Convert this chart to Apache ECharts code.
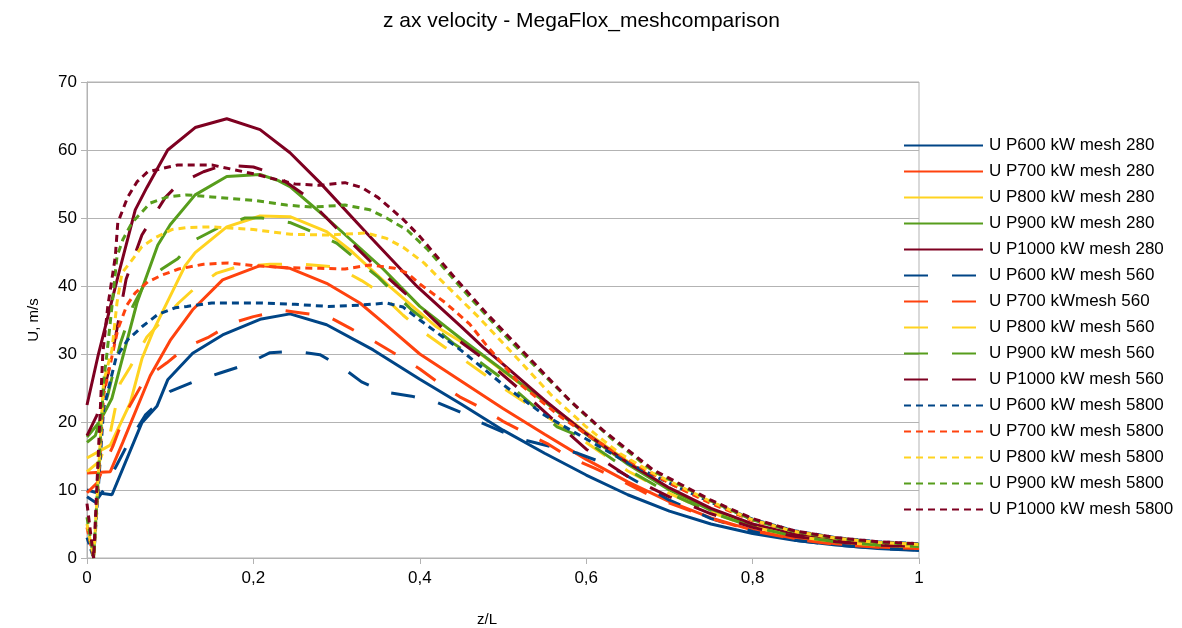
<!DOCTYPE html>
<html>
<head>
<meta charset="utf-8">
<script src="https://cdn.jsdelivr.net/npm/echarts@6/dist/echarts.min.js"></script>
<style>
html,body{margin:0;padding:0;background:#fff;}
#chart{width:1182px;height:628px;}
</style>
</head>
<body>
<div id="chart"></div>
<script>
// ---- Data: [z/L, U m/s] pairs per series ----
const titleText = 'z ax velocity - MegaFlox_meshcomparison';
const xTicks = [0, 0.2, 0.4, 0.6, 0.8, 1];
const yTicks = [0, 10, 20, 30, 40, 50, 60, 70];

const seriesNames = [
  'U P600 kW mesh 280', 'U P700 kW mesh 280', 'U P800 kW mesh 280', 'U P900 kW mesh 280', 'U P1000 kW mesh 280',
  'U P600 kW mesh 560', 'U P700 kWmesh 560', 'U P800 kW mesh 560', 'U P900 kW mesh 560', 'U P1000 kW mesh 560',
  'U P600 kW mesh 5800', 'U P700 kW mesh 5800', 'U P800 kW mesh 5800', 'U P900 kW mesh 5800', 'U P1000 kW mesh 5800'
];

const P600_280 = [[0,10.0],[0.012,9.6],[0.03,9.3],[0.066,19.9],[0.084,22.3],[0.097,26.2],[0.127,30.1],[0.163,32.8],[0.208,35.1],[0.244,35.9],[0.288,34.3],[0.344,30.6],[0.4,26.3],[0.45,22.6],[0.5,18.8],[0.55,15.4],[0.6,12.2],[0.65,9.3],[0.7,6.9],[0.75,5.0],[0.8,3.6],[0.85,2.6],[0.9,1.9],[0.95,1.4],[1,1.1]];
const P700_280 = [[0,12.5],[0.028,12.7],[0.043,17],[0.076,26.8],[0.1,32],[0.127,36.5],[0.163,40.9],[0.208,43],[0.244,42.6],[0.288,40.4],[0.328,37.5],[0.36,34.2],[0.4,30],[0.45,26],[0.5,22],[0.55,18.2],[0.6,14.5],[0.65,11.2],[0.7,8.3],[0.75,5.9],[0.8,4.1],[0.85,2.9],[0.9,2.1],[0.95,1.6],[1,1.4]];
const P800_280 = [[0,14.7],[0.028,16.6],[0.052,22.8],[0.066,29.3],[0.08,33.5],[0.1,38.5],[0.118,43],[0.13,44.9],[0.168,48.7],[0.208,50.3],[0.244,50.2],[0.288,48],[0.316,45.3],[0.364,39.9],[0.42,34],[0.47,30.3],[0.5,27.5],[0.55,23],[0.6,18.5],[0.65,14.2],[0.7,10.2],[0.75,7.1],[0.8,4.8],[0.85,3.3],[0.9,2.4],[0.95,1.9],[1,1.7]];
const P900_280 = [[0,17.8],[0.015,20],[0.03,23.5],[0.045,30.5],[0.06,37.5],[0.085,46],[0.1,49],[0.13,53.4],[0.168,56.1],[0.208,56.4],[0.23,55.5],[0.244,54.6],[0.288,50],[0.356,42.5],[0.4,37],[0.45,32.2],[0.5,27.6],[0.55,23],[0.6,18.2],[0.65,13.8],[0.7,10],[0.75,7],[0.8,4.8],[0.85,3.3],[0.9,2.4],[0.95,1.9],[1,1.7]];
const P1000_280 = [[0,22.5],[0.013,29.6],[0.037,41.3],[0.058,51.2],[0.072,54.5],[0.097,60],[0.13,63.3],[0.168,64.6],[0.208,63],[0.244,59.6],[0.28,55.2],[0.336,47.8],[0.397,39.9],[0.45,34],[0.476,31],[0.5,28.5],[0.55,23.2],[0.6,18.3],[0.65,14],[0.7,10.3],[0.75,7.3],[0.8,5],[0.85,3.5],[0.9,2.6],[0.95,2.1],[1,1.8]];

const P600_560 = [[0,9],[0.01,8.2],[0.02,10],[0.035,13.5],[0.05,17],[0.07,21],[0.1,24.5],[0.13,26],[0.16,27.2],[0.19,28.4],[0.22,30.2],[0.25,30.4],[0.28,29.9],[0.306,28.1],[0.33,25.9],[0.358,24.4],[0.39,23.8],[0.418,23],[0.448,21.5],[0.472,20],[0.502,18.4],[0.524,17.4],[0.56,16.3],[0.59,15.4],[0.62,14],[0.643,12.5],[0.7,8.5],[0.75,5.8],[0.8,3.9],[0.85,2.6],[0.9,1.9],[0.95,1.4],[1,1.2]];
const P700_560 = [[0,9.6],[0.012,11],[0.022,14],[0.031,16.4],[0.045,21],[0.07,26.4],[0.096,28.7],[0.12,31.1],[0.145,32.4],[0.176,34.6],[0.2,35.5],[0.236,36.4],[0.26,36],[0.29,35.5],[0.316,33.8],[0.346,31.8],[0.372,29.9],[0.4,27.8],[0.42,26],[0.448,23.7],[0.475,22],[0.5,20.1],[0.527,18.4],[0.555,16.7],[0.578,14.9],[0.61,13.2],[0.632,12],[0.68,9],[0.75,5.8],[0.8,4],[0.85,2.8],[0.9,2],[0.95,1.6],[1,1.4]];
const P800_560 = [[0,12.7],[0.015,14.2],[0.028,18.4],[0.04,25.7],[0.052,28.1],[0.072,32.5],[0.11,37.5],[0.127,39.4],[0.156,41.9],[0.18,42.8],[0.22,43.2],[0.26,43.2],[0.3,42.8],[0.33,40.8],[0.35,39.2],[0.38,35.7],[0.4,33.6],[0.43,31],[0.45,29.4],[0.48,26.8],[0.5,25],[0.53,22.6],[0.55,21],[0.6,17],[0.65,12.8],[0.7,9.5],[0.75,6.7],[0.8,4.6],[0.85,3.2],[0.9,2.4],[0.95,1.9],[1,1.7]];
const P900_560 = [[0,17],[0.01,18],[0.025,24],[0.04,31.5],[0.055,37],[0.07,40.5],[0.09,42.5],[0.109,44],[0.13,46.8],[0.16,48.7],[0.19,50],[0.21,50],[0.245,49.3],[0.27,48],[0.3,46.3],[0.32,44.3],[0.35,41.3],[0.365,39.5],[0.39,36.5],[0.41,34.6],[0.44,31.6],[0.46,29.9],[0.5,26.3],[0.565,19.3],[0.59,18],[0.65,13],[0.7,9.5],[0.75,6.7],[0.8,4.6],[0.85,3.2],[0.9,2.4],[0.95,1.9],[1,1.7]];
const P1000_560 = [[0,18],[0.012,21],[0.025,27],[0.035,33],[0.047,41],[0.066,47.5],[0.094,53],[0.11,55],[0.14,56.8],[0.165,57.8],[0.2,57.5],[0.225,56.5],[0.26,53.5],[0.3,48.5],[0.35,42.5],[0.4,37],[0.43,33.5],[0.48,29],[0.52,24.8],[0.57,19.3],[0.6,16],[0.65,12],[0.7,9],[0.75,6.5],[0.8,4.5],[0.85,3.2],[0.9,2.4],[0.95,1.9],[1,1.7]];

const P600_5800 = [[0,3],[0.008,0],[0.02,22],[0.035,29.5],[0.049,32.1],[0.066,34],[0.085,35.8],[0.106,36.8],[0.12,37],[0.15,37.5],[0.21,37.5],[0.25,37.3],[0.29,37],[0.33,37.2],[0.36,37.5],[0.38,36.9],[0.4,35],[0.45,30.5],[0.5,25.5],[0.55,21],[0.6,17.5],[0.65,14],[0.7,11],[0.75,8.2],[0.8,5.7],[0.85,4],[0.9,3],[0.95,2.4],[1,2.1]];
const P700_5800 = [[0,4.5],[0.008,0],[0.02,24],[0.037,33.6],[0.048,37.2],[0.058,39],[0.073,40.6],[0.09,41.6],[0.11,42.5],[0.14,43.2],[0.17,43.4],[0.2,43],[0.24,42.7],[0.28,42.6],[0.31,42.5],[0.34,43.1],[0.37,42.6],[0.385,41.9],[0.4,40.3],[0.43,37.6],[0.46,34.4],[0.48,31.3],[0.52,25.6],[0.57,20.7],[0.61,17.4],[0.66,13.7],[0.7,11],[0.75,8],[0.8,5.5],[0.85,3.9],[0.9,2.9],[0.95,2.3],[1,2.0]];
const P800_5800 = [[0,5],[0.008,0],[0.02,26],[0.03,30.6],[0.036,37.5],[0.042,41.9],[0.054,43.8],[0.066,45.8],[0.082,47.1],[0.102,48.3],[0.12,48.6],[0.15,48.7],[0.2,48.3],[0.245,47.6],[0.29,47.5],[0.335,47.8],[0.36,47],[0.38,45.7],[0.405,43.4],[0.43,40.3],[0.47,35.5],[0.51,30.3],[0.56,23.7],[0.6,19.3],[0.64,15.4],[0.68,12.5],[0.75,8.3],[0.8,5.6],[0.85,3.9],[0.9,2.9],[0.95,2.3],[1,2.0]];
const P900_5800 = [[0,6],[0.008,0],[0.02,26],[0.024,30.1],[0.03,37],[0.036,44.3],[0.043,46.8],[0.054,49.3],[0.076,52.2],[0.097,53.1],[0.12,53.4],[0.15,53.1],[0.2,52.6],[0.24,51.9],[0.27,51.6],[0.31,51.9],[0.34,51.2],[0.36,50],[0.385,48.2],[0.41,45.3],[0.45,39.7],[0.5,33],[0.55,26.8],[0.59,22],[0.63,17.6],[0.68,12.8],[0.75,8.4],[0.8,5.6],[0.85,3.9],[0.9,2.9],[0.95,2.3],[1,2.0]];
const P1000_5800 = [[0,8],[0.008,0],[0.019,30.1],[0.025,37],[0.034,44.3],[0.037,49.3],[0.049,53.1],[0.06,55.3],[0.073,56.8],[0.109,57.8],[0.15,57.8],[0.2,56.5],[0.25,55],[0.28,54.8],[0.31,55.2],[0.33,54.5],[0.35,53],[0.38,49.8],[0.4,47.3],[0.44,41.5],[0.48,36],[0.53,29.6],[0.58,23.2],[0.62,18.8],[0.68,13],[0.75,8.5],[0.8,5.8],[0.85,4],[0.9,3],[0.95,2.4],[1,2.1]];

const seriesData = [P600_280, P700_280, P800_280, P900_280, P1000_280,
                    P600_560, P700_560, P800_560, P900_560, P1000_560,
                    P600_5800, P700_5800, P800_5800, P900_5800, P1000_5800];

// ---- Styles ----
const palette = ['#004586', '#ff420e', '#ffd320', '#579d1c', '#7e0021'];
const lineTypes = ['solid', [24, 24], [7, 5]];
const FONT = '"Liberation Sans", Arial, sans-serif';

const series = seriesData.map((d, i) => ({
  name: seriesNames[i],
  type: 'line',
  data: d,
  symbol: 'none',
  smooth: false,
  animation: false,
  lineStyle: { color: palette[i % 5], width: 3, type: lineTypes[Math.floor(i / 5)] },
  itemStyle: { color: palette[i % 5] }
}));

const fmt = v => String(+v.toFixed(1)).replace('.', ',');

const chart = echarts.init(document.getElementById('chart'), null, { renderer: 'canvas' });
chart.setOption({
  backgroundColor: '#ffffff',
  animation: false,
  title: {
    text: titleText,
    left: 378, top: 6,
    textStyle: { fontFamily: FONT, fontSize: 21, fontWeight: 'normal', color: '#000' }
  },
  legend: {
    orient: 'vertical',
    left: 903, top: 137, padding: 0,
    itemWidth: 79, itemHeight: 14, itemGap: 9,
    selectedMode: false,
    lineStyle: { width: 2 },
    itemStyle: { opacity: 0, borderWidth: 0 },
    textStyle: { fontFamily: FONT, fontSize: 17, color: '#000', padding: [0, 0, 0, 1] },
    data: seriesNames
  },
  grid: { left: 87, right: 263, top: 82, bottom: 70, show: true, borderColor: '#b3b3b3', borderWidth: 1, containLabel: false, outerBoundsMode: 'none' },
  xAxis: {
    type: 'value', min: xTicks[0], max: xTicks[xTicks.length - 1], interval: 0.2,
    name: 'z/L', nameLocation: 'middle', nameGap: 54,
    nameTextStyle: { fontFamily: FONT, fontSize: 15, color: '#000', padding: [0, 32, 0, 0] },
    axisLine: { show: true, lineStyle: { color: '#b3b3b3', width: 1 } },
    axisTick: { show: true, length: 6, lineStyle: { color: '#b3b3b3' } },
    splitLine: { show: false },
    axisLabel: { fontFamily: FONT, fontSize: 17, color: '#000', margin: 12, formatter: fmt }
  },
  yAxis: {
    type: 'value', min: yTicks[0], max: yTicks[yTicks.length - 1], interval: 10,
    name: 'U, m/s', nameLocation: 'middle', nameGap: 46, nameRotate: 90,
    nameTextStyle: { fontFamily: FONT, fontSize: 15, color: '#000' },
    axisLine: { show: true, lineStyle: { color: '#b3b3b3', width: 1 } },
    axisTick: { show: true, length: 6, lineStyle: { color: '#b3b3b3' } },
    splitLine: { show: true, lineStyle: { color: '#b3b3b3', width: 1 } },
    axisLabel: { fontFamily: FONT, fontSize: 17, color: '#000', margin: 10, formatter: fmt }
  },
  series: series
});
</script>
</body>
</html>
